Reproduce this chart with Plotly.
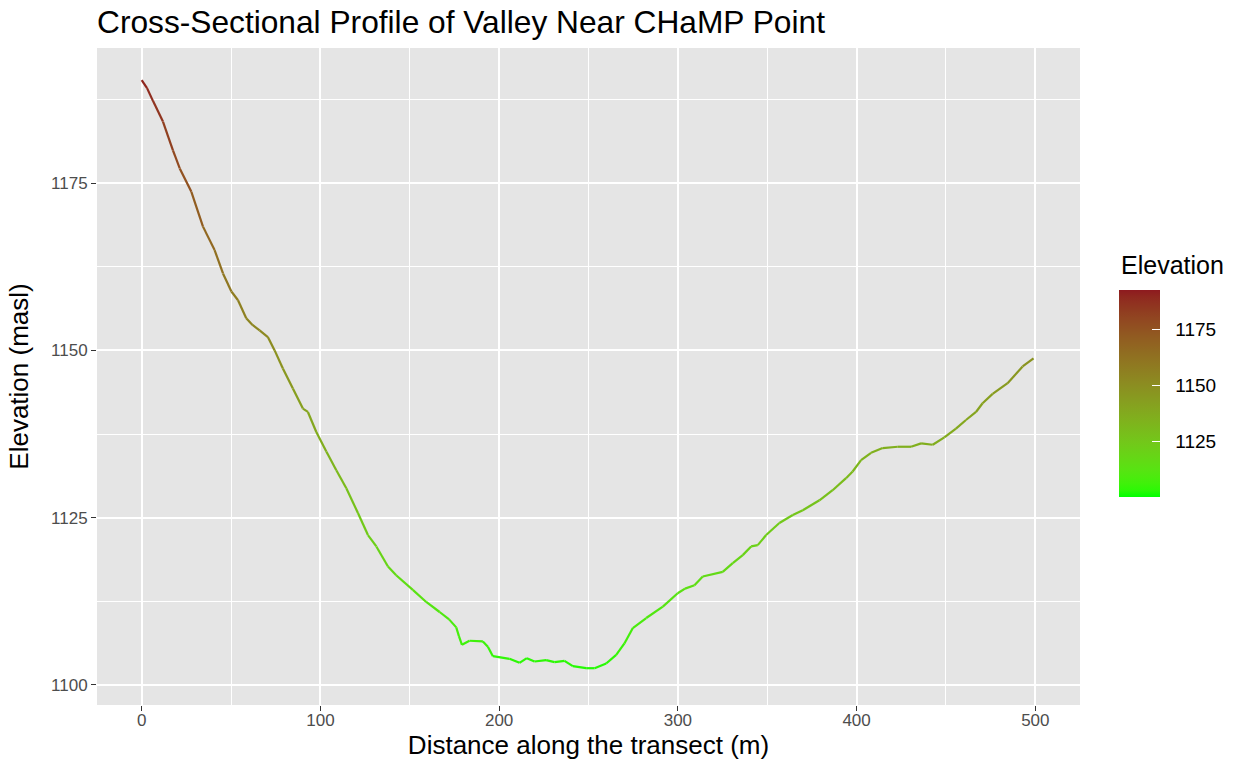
import plotly.graph_objects as go

# ---- data ----
distance_m = [0, 3, 6.3, 11.9, 17.5, 21.3, 27.8, 34.3, 40.8, 45.5, 50.2, 53.9, 58.5, 62, 66,
              70.6, 74.4, 79.0, 84.6, 90.2, 93.0, 97.7, 103.3, 108.9, 114.5, 121.0, 126.6,
              131.3, 137.8, 142.4, 151.7, 159.2, 166.7, 172, 176.0, 177.5, 179.2, 183.4,
              190.9, 193.7, 196.5, 205.8, 211.4, 215.5, 219.8, 226.3, 231.0, 236.6, 241.2,
              248.7, 253.4, 259.9, 265.5, 270.1, 274.8, 282.3, 291.6, 299.9, 304, 309.3,
              313.9, 325.1, 330.7, 336.3, 341.0, 344.7, 349.4, 356.8, 364.3, 369.9, 379.2,
              386.6, 394.1, 397.8, 402.5, 408.1, 414.6, 423.0, 430.5, 436.1, 442.6, 449.1,
              455.6, 461.2, 466.8, 470.5, 476.1, 484.5, 492.9, 499.0]
elevation_masl = [1190.4, 1189.2, 1187.3, 1184.2, 1179.9, 1177.2, 1173.7, 1168.5, 1165.0, 1161.5,
                  1158.8, 1157.5, 1154.8, 1153.8, 1153.0, 1152.0, 1150.0, 1147.3, 1144.3, 1141.3,
                  1140.8, 1137.8, 1134.9, 1132.1, 1129.4, 1125.7, 1122.4, 1120.7, 1117.7, 1116.4,
                  1114.2, 1112.4, 1110.9, 1109.8, 1108.6, 1107.3, 1106.0, 1106.6, 1106.5, 1105.7,
                  1104.3, 1103.9, 1103.3, 1104.0, 1103.5, 1103.7, 1103.4, 1103.6, 1102.8, 1102.5,
                  1102.5, 1103.2, 1104.5, 1106.2, 1108.5, 1110.0, 1111.7, 1113.7, 1114.4, 1114.9,
                  1116.2, 1116.9, 1118.2, 1119.4, 1120.7, 1120.9, 1122.4, 1124.2, 1125.4, 1126.1,
                  1127.6, 1129.1, 1130.9, 1131.9, 1133.6, 1134.7, 1135.4, 1135.6, 1135.6, 1136.1,
                  1135.9, 1137.0, 1138.3, 1139.6, 1140.8, 1142.1, 1143.5, 1145.1, 1147.6, 1148.8]
x_ticks = [0, 100, 200, 300, 400, 500]
y_ticks = [1100, 1125, 1150, 1175]
legend_ticks = [1125, 1150, 1175]

LOW = "#00FF00"
HIGH = "#8E1A1F"
CMIN, CMAX = 1100.5, 1192.7
FONT = "Liberation Sans, Arial, Helvetica, sans-serif"


# ---- Lab interpolation (like ggplot's scale_colour_gradient) ----
def hex_to_rgb(h):
    h = h.lstrip('#')
    return [int(h[i:i + 2], 16) for i in (0, 2, 4)]


def rgb_to_lab(rgb):
    def lin(c):
        c = c / 255.0
        return c / 12.92 if c <= 0.04045 else ((c + 0.055) / 1.055) ** 2.4
    r, g, b = [lin(c) for c in rgb]
    X = (0.4124 * r + 0.3576 * g + 0.1805 * b) / 0.95047
    Y = (0.2126 * r + 0.7152 * g + 0.0722 * b) / 1.0
    Z = (0.0193 * r + 0.1192 * g + 0.9505 * b) / 1.08883

    def f(t):
        return t ** (1 / 3) if t > 0.008856 else 7.787 * t + 16 / 116
    fx, fy, fz = f(X), f(Y), f(Z)
    return [116 * fy - 16, 500 * (fx - fy), 200 * (fy - fz)]


def lab_to_rgb(lab):
    L, a, b = lab
    fy = (L + 16) / 116
    fx = fy + a / 500
    fz = fy - b / 200

    def finv(t):
        return t ** 3 if t ** 3 > 0.008856 else (t - 16 / 116) / 7.787
    X, Y, Z = finv(fx) * 0.95047, finv(fy), finv(fz) * 1.08883
    r = 3.2406 * X - 1.5372 * Y - 0.4986 * Z
    g = -0.9689 * X + 1.8758 * Y + 0.0415 * Z
    bb = 0.0557 * X - 0.2040 * Y + 1.0570 * Z

    def gam(c):
        c = max(0.0, min(1.0, c))
        return 12.92 * c if c <= 0.0031308 else 1.055 * c ** (1 / 2.4) - 0.055
    return [int(round(gam(c) * 255)) for c in (r, g, bb)]


LAB_LO, LAB_HI = rgb_to_lab(hex_to_rgb(LOW)), rgb_to_lab(hex_to_rgb(HIGH))


def colour_at(t):
    t = max(0.0, min(1.0, t))
    lab = [lo + (hi - lo) * t for lo, hi in zip(LAB_LO, LAB_HI)]
    r, g, b = lab_to_rgb(lab)
    return f"rgb({r},{g},{b})"


colorscale = [[i / 30, colour_at(i / 30)] for i in range(31)]

fig = go.Figure()

# coloured line: one short trace per segment, colour by mean elevation
for i in range(len(distance_m) - 1):
    mid = 0.5 * (elevation_masl[i] + elevation_masl[i + 1])
    fig.add_trace(go.Scatter(
        x=[distance_m[i], distance_m[i + 1]],
        y=[elevation_masl[i], elevation_masl[i + 1]],
        mode="lines",
        line=dict(color=colour_at((mid - CMIN) / (CMAX - CMIN)), width=2.2),
        showlegend=False, hoverinfo="skip"))

bar_common = dict(
    thickness=41, thicknessmode="pixels",
    len=207, lenmode="pixels",
    x=(1119 - 97) / 983, xanchor="left", xref="paper",
    y=(705 - 393) / 657, yanchor="middle", yref="paper",
    xpad=0, ypad=0, outlinewidth=0, tickvals=legend_ticks,
)

# invisible trace carrying the colour bar (labels)
fig.add_trace(go.Scatter(
    x=distance_m, y=elevation_masl, mode="markers",
    marker=dict(size=2, opacity=0, color=elevation_masl, colorscale=colorscale,
                cmin=CMIN, cmax=CMAX, showscale=True,
                colorbar=dict(ticks="outside", ticklen=12, tickcolor="rgba(0,0,0,0)",
                              tickfont=dict(size=19, color="black", family=FONT),
                              **bar_common)),
    showlegend=False, hoverinfo="skip"))
# second colour bar on top carrying the white inner ticks
fig.add_trace(go.Scatter(
    x=distance_m, y=elevation_masl, mode="markers",
    marker=dict(size=2, opacity=0, color=elevation_masl, colorscale=colorscale,
                cmin=CMIN, cmax=CMAX, showscale=True,
                colorbar=dict(ticks="inside", ticklen=8, tickcolor="white", tickwidth=1.3,
                              showticklabels=False, **bar_common)),
    showlegend=False, hoverinfo="skip"))

axis_common = dict(
    showgrid=True, gridcolor="white", gridwidth=2.2,
    zeroline=False, showline=False, automargin=False,
    ticks="outside", ticklen=5, tickwidth=1.3, tickcolor="#333333",
    tickfont=dict(size=17, color="#4D4D4D"),
)

fig.update_xaxes(
    range=[-25, 525], tickvals=x_ticks, ticklabelstandoff=-5,
    minor=dict(tickmode="linear", tick0=50, dtick=100, showgrid=True,
               gridcolor="white", gridwidth=1.1, ticks=""),
    title=dict(text="Distance along the transect (m)", font=dict(size=26, color="black"),
               standoff=2),
    **axis_common)
fig.update_yaxes(
    range=[1097.0, 1195.2], tickvals=y_ticks,
    minor=dict(tickmode="linear", tick0=1112.5, dtick=25, showgrid=True,
               gridcolor="white", gridwidth=1.1, ticks=""),
    title=dict(text="Elevation (masl)", font=dict(size=26, color="black"), standoff=14),
    **axis_common)

fig.update_layout(
    width=1239, height=768,
    margin=dict(l=97, r=159, t=48, b=63, autoexpand=False),
    paper_bgcolor="white", plot_bgcolor="#E5E5E5",
    font=dict(family=FONT),
    title=dict(text="Cross-Sectional Profile of Valley Near CHaMP Point",
               x=97 / 1239, xanchor="left", xref="container",
               y=1 - 22 / 768, yanchor="middle", yref="container",
               font=dict(size=31.7, color="black")),
    annotations=[dict(text="Elevation", x=(1119 - 97) / 983, y=(705 - 265) / 657,
                      xref="paper", yref="paper", xanchor="left", yanchor="middle",
                      showarrow=False, font=dict(size=25, color="black"))],
    showlegend=False,
)

fig.write_html("out.html")
